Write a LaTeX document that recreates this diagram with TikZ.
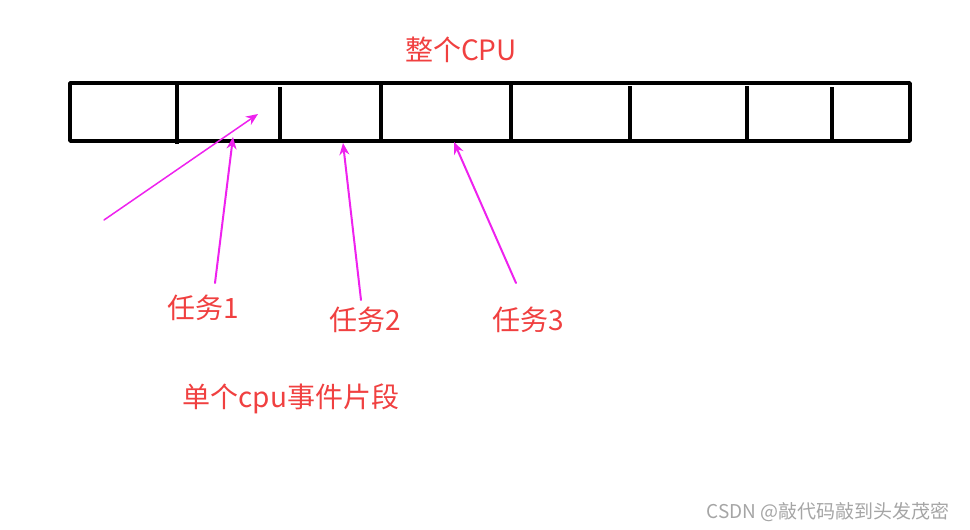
\documentclass[tikz,border=0pt]{standalone}
\usepackage{fontspec}
\setmainfont{Noto Sans CJK SC}
\usetikzlibrary{arrows.meta}
\definecolor{labelred}{RGB}{240,64,64}
\definecolor{arrowpink}{RGB}{238,34,238}
\definecolor{markgray}{RGB}{165,165,165}
\begin{document}
\begin{tikzpicture}[
	x=1pt, y=-1pt,
	>={Stealth[length=12pt,width=10pt]},
	line cap=round,
	line join=round,
	lbl/.style={text=labelred, font=\fontsize{28}{32}\selectfont, inner sep=0pt},
	slot/.style={line width=3.5pt},
	bar/.style={line width=4.5pt, line cap=butt}
	]
	\useasboundingbox (0,0) rectangle (970,530);
	% the whole cpu, cut into time slices
	\draw[slot] (70,83) rectangle (910,141);
	\draw[bar] (177,83) -- (177,144);
	\draw[bar] (280,87) -- (280,143);
	\draw[bar] (381,83) -- (381,141);
	\draw[bar] (511,84) -- (511,141);
	\draw[bar] (630,86) -- (630,141);
	\draw[bar] (747,86) -- (747,141);
	\draw[bar] (832,87) -- (832,141);
	% labels
	\node[lbl] (cpu) at (461,50) {整个CPU};
	\node[lbl] (task1) at (203,308) {任务1};
	\node[lbl] (task2) at (365,320) {任务2};
	\node[lbl] (task3) at (528,320) {任务3};
	\node[lbl] (slice) at (291,399) {单个cpu事件片段};
	\node[text=markgray, font=\fontsize{19}{22}\selectfont, inner sep=0pt] (mark) at (828,512) {CSDN @敲代码敲到头发茂密};
	% arrow ends
	\coordinate (slicetail) at (104,220);
	\coordinate (slicetip) at (258,114);
	\coordinate (t1tail) at (215,283);
	\coordinate (t1tip) at (233,137);
	\coordinate (t2tail) at (361,300);
	\coordinate (t2tip) at (343,143);
	\coordinate (t3tail) at (516,283);
	\coordinate (t3tip) at (454,142);
	\begin{scope}[->, arrowpink, line width=2pt]
		\draw[line width=1.5pt] (slicetail) -- (slicetip);
		\draw (t1tail) -- (t1tip);
		\draw (t2tail) -- (t2tip);
		\draw (t3tail) -- (t3tip);
	\end{scope}
\end{tikzpicture}
\end{document}
